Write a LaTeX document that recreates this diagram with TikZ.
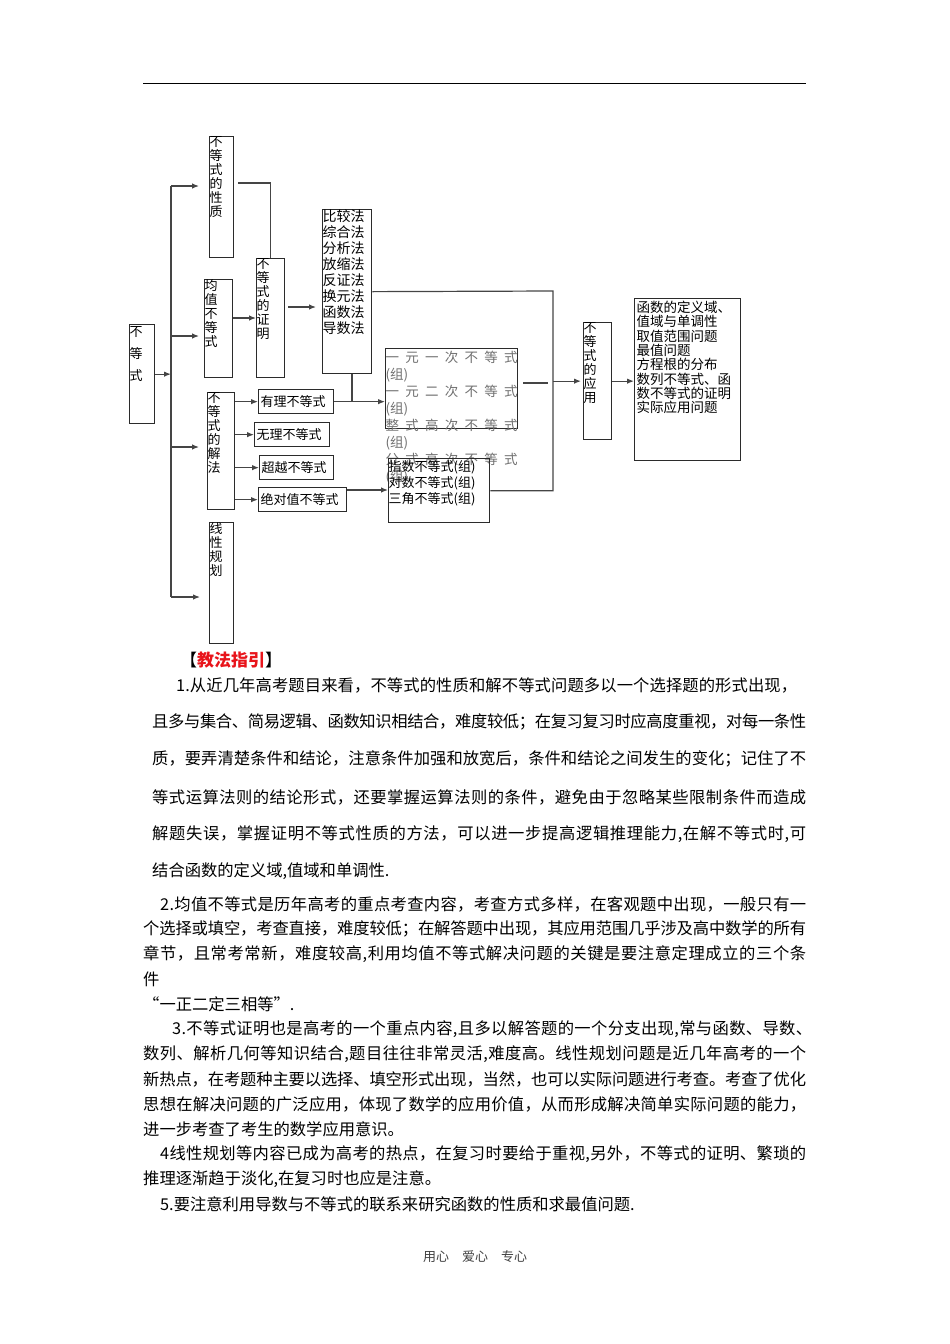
\documentclass[tikz,border=0pt]{standalone}
\usepackage{fontspec}
\setmainfont{Noto Sans CJK SC}
\usetikzlibrary{arrows.meta,calc}
\definecolor{boxline}{HTML}{2B2B2B}
\definecolor{linkgray}{HTML}{454545}
\definecolor{guidered}{HTML}{E8141B}
\definecolor{fadetext}{HTML}{707070}
\tikzset{
  >=Latex,
  box/.style={draw=boxline, line width=1.3pt, inner sep=0pt, anchor=north west,
    font=\fontsize{13}{14}\selectfont},
  leaf/.style={draw=boxline, line width=1.3pt, inner xsep=2pt, inner ysep=0pt,
    anchor=north west, minimum height=24pt, align=left,
    font=\fontsize{13}{14}\selectfont},
  link/.style={line width=1.2pt, draw=linkgray},
  arr/.style={-{Latex[length=7pt,width=5.5pt]}, line width=1.2pt, draw=linkgray},
  body/.style={anchor=west, inner sep=0pt, font=\fontsize{16.3}{18}\selectfont},
  foot/.style={inner sep=0pt, font=\fontsize{13}{14}\selectfont, text=black!75}
}
\newcommand{\colbox}[3]{\parbox[t][#2][t]{#1}{#3}}
% justified lines: glue after every character
\def\spreadchars#1{\ifx#1\relax\else#1\hskip 0pt plus 3pt minus 1pt\relax\expandafter\spreadchars\fi}
\newcommand{\fillline}[2]{\makebox[#1][s]{\spreadchars#2\relax\unskip}}

\begin{document}
\begin{tikzpicture}[x=1pt, y=-1pt]
\useasboundingbox (0,0) rectangle (950,1344);
\draw[line width=1pt] (143,83) -- (806,83);

% tree of the topic
\node[box, font=\fontsize{13}{22}\selectfont, inner ysep=1.5pt] (ineq) at (129,324) {\colbox{25pt}{96pt}{不\\等\\式}};
\node[box] (prop) at (209,136) {\colbox{24pt}{121pt}{不\\等\\式\\的\\性\\质}};
\node[box] (mean) at (204,279) {\colbox{28pt}{98pt}{均\\值\\不\\等\\式}};
\node[box] (proof) at (256,258) {\colbox{28pt}{119pt}{不\\等\\式\\的\\证\\明}};
\node[box, font=\fontsize{14}{16}\selectfont] (meth) at (322,209) {\colbox{49pt}{164pt}{比较法\\综合法\\分析法\\放缩法\\反证法\\换元法\\函数法\\导数法}};
\node[box] (solve) at (207,392) {\colbox{27pt}{117pt}{不\\等\\式\\的\\解\\法}};
\node[box] (lp) at (209,522) {\colbox{24pt}{121pt}{线\\性\\规\\划}};
\node[leaf, text width=71pt] (rat) at (258,389) {有理不等式};
\node[leaf, text width=71pt] (irr) at (254,422) {无理不等式};
\node[leaf, text width=70pt] (tran) at (259,455) {超越不等式};
\node[leaf, text width=84pt] (abs) at (258,487) {绝对值不等式};
\node[box, font=\fontsize{13.5}{17}\selectfont, text=fadetext, inner ysep=2pt] (poly) at (385,348) {\colbox{132pt}{76pt}{%
  \makebox[\linewidth][s]{一 元 一 次 不 等 式}\\(组)\\
  \makebox[\linewidth][s]{一 元 二 次 不 等 式}\\(组)\\
  \makebox[\linewidth][s]{整 式 高 次 不 等 式}\\(组)\\
  \makebox[\linewidth][s]{分 式 高 次 不 等 式}\\(组)}};
\node[box, font=\fontsize{13}{16}\selectfont, inner ysep=1.5pt] (expo) at (388,458) {\colbox{101pt}{61pt}{指数不等式(组)\\对数不等式(组)\\三角不等式(组)}};
\node[box] (app) at (583,322) {\colbox{28pt}{117pt}{不\\等\\式\\的\\应\\用}};
\node[box, font=\fontsize{13.5}{14.3}\selectfont, inner xsep=2pt, inner ysep=2.5pt] (use) at (634,298) {\colbox{102pt}{157pt}{函数的定义域、\\值域与单调性\\取值范围问题\\最值问题\\方程根的分布\\数列不等式、函\\数不等式的证明\\实际应用问题}};

% main bus
\coordinate (b1) at (171,186);
\coordinate (b2) at (171,336);
\coordinate (b3) at (171,447);
\coordinate (b4) at (171,597);
\draw[link] (b1) -- (b4);
\draw[arr] (ineq.east) -- (ineq.east -| b1);
\draw[arr, shorten >=10pt] (b1) -- (b1 -| prop.west);
\draw[arr, shorten >=5pt] (b2) -- (b2 -| mean.west);
\draw[arr, shorten >=8pt] (b3) -- (b3 -| solve.west);
\draw[arr, shorten >=9pt] (b4) -- (b4 -| lp.west);

% into the proof
\coordinate (p1) at (238,183);
\coordinate (m1) at (0,318);
\coordinate (q1) at (0,307);
\draw[link] (p1) -| (proof.north);
\draw[arr] (mean.east |- m1) -- (proof.west |- m1);
\draw[arr, shorten <=3pt, shorten >=6pt] (proof.east |- q1) -- (meth.west |- q1);

% solving branches
\foreach \t in {rat,irr,tran,abs}
  \draw[arr] (solve.east |- \t.west) -- (\t.west);
\coordinate (j1) at (352,401);
\coordinate (a1) at (0,490);
\draw[link] (meth.south -| j1) -- (j1);
\draw[arr] (rat.east) -- (poly.west |- rat.east);
\draw[arr] (abs.east |- a1) -- (expo.west |- a1);

% right collector
\coordinate (r1) at (553,291);
\coordinate (s1) at (0,383);
\draw[link] (meth.east) -- (r1) -- (r1 |- expo.east) -- (expo.east);
\draw[link, shorten <=5pt, shorten >=5pt] (poly.east |- s1) -- (r1 |- s1);
\draw[arr, shorten >=2pt] (r1 |- app.west) -- (app.west);
\draw[arr] (app.east) -- (use.west |- app.east);

% teaching notes
\node[body, font=\fontsize{17}{18}\selectfont] (guide) at (180,660) {【{\color{guidered}\bfseries 教法指引}】};
\node[body] (t1) at (176,685) {\fillline{621pt}{1.从近几年高考题目来看，不等式的性质和解不等式问题多以一个选择题的形式出现，}};
\node[body] (t2) at (152,722) {\fillline{654pt}{且多与集合、简易逻辑、函数知识相结合，难度较低；在复习复习时应高度重视，对每一条性}};
\node[body] (t3) at (152,759) {\fillline{654pt}{质，要弄清楚条件和结论，注意条件加强和放宽后，条件和结论之间发生的变化；记住了不}};
\node[body] (t4) at (152,797) {\fillline{654pt}{等式运算法则的结论形式，还要掌握运算法则的条件，避免由于忽略某些限制条件而造成}};
\node[body] (t5) at (152,834) {\fillline{654pt}{解题失误，掌握证明不等式性质的方法，可以进一步提高逻辑推理能力,在解不等式时,可}};
\node[body] (t6) at (152,871) {结合函数的定义域,值域和单调性.};
\node[body] (t7) at (160,904) {\fillline{646pt}{2.均值不等式是历年高考的重点考查内容，考查方式多样，在客观题中出现，一般只有一}};
\node[body] (t8) at (143,929) {\fillline{663pt}{个选择或填空，考查直接，难度较低；在解答题中出现，其应用范围几乎涉及高中数学的所有}};
\node[body] (t9) at (143,954) {\fillline{663pt}{章节，且常考常新，难度较高,利用均值不等式解决问题的关键是要注意定理成立的三个条}};
\node[body] (t10) at (143,979) {件};
\node[body] (t11) at (143,1004) {“一正二定三相等”.};
\node[body] (t12) at (172,1029) {\fillline{640pt}{3.不等式证明也是高考的一个重点内容,且多以解答题的一个分支出现,常与函数、导数、}};
\node[body] (t13) at (143,1054) {\fillline{663pt}{数列、解析几何等知识结合,题目往往非常灵活,难度高。线性规划问题是近几年高考的一个}};
\node[body] (t14) at (143,1079) {\fillline{663pt}{新热点，在考题种主要以选择、填空形式出现，当然，也可以实际问题进行考查。考查了优化}};
\node[body] (t15) at (143,1104) {\fillline{663pt}{思想在解决问题的广泛应用，体现了数学的应用价值，从而形成解决简单实际问题的能力，}};
\node[body] (t16) at (143,1129) {进一步考查了考生的数学应用意识。};
\node[body] (t17) at (160,1154) {\fillline{646pt}{4线性规划等内容已成为高考的热点，在复习时要给于重视,另外，不等式的证明、繁琐的}};
\node[body] (t18) at (143,1179) {推理逐渐趋于淡化,在复习时也应是注意。};
\node[body] (t19) at (160,1204) {5.要注意利用导数与不等式的联系来研究函数的性质和求最值问题.};
\node[foot] (foot) at (475,1257) {用心\quad 爱心\quad 专心};
\end{tikzpicture}
\end{document}
